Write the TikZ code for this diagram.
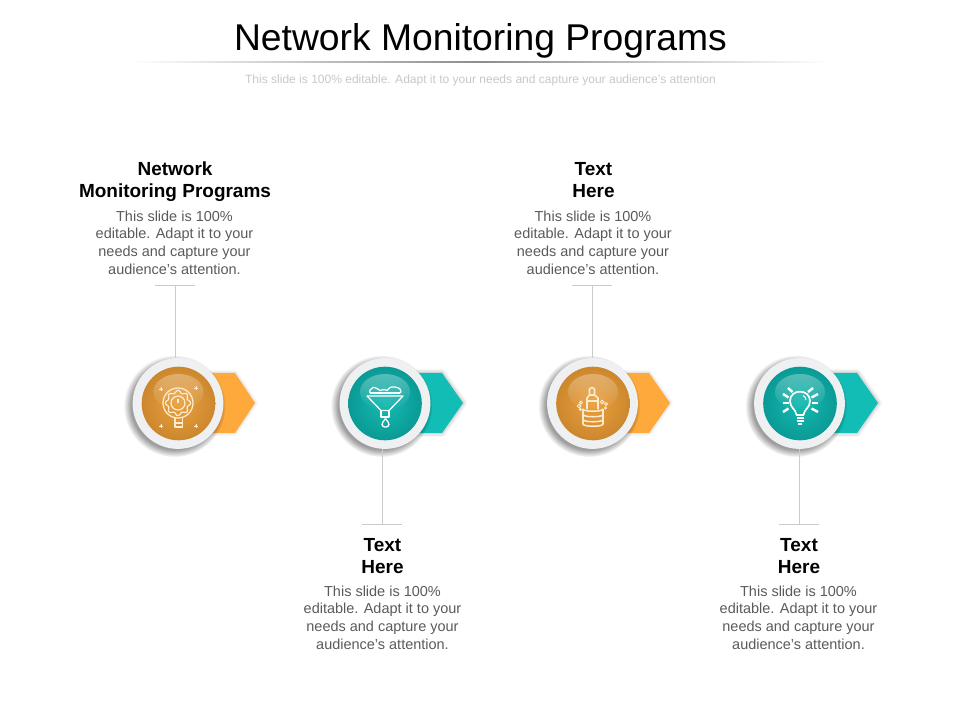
\documentclass[tikz,border=0pt]{standalone}
\usepackage{fontspec}
\setmainfont{Liberation Sans}
\usetikzlibrary{fadings}

\definecolor{amberblade}{HTML}{FDA93C}
\definecolor{tealblade}{HTML}{12BDB5}
\definecolor{amberinner}{HTML}{EBA03C}
\definecolor{amberouter}{HTML}{CC872E}
\definecolor{tealinner}{HTML}{16BAB2}
\definecolor{tealouter}{HTML}{0A9A95}
\definecolor{ringgrey}{HTML}{EEF0F2}
\definecolor{stemgrey}{HTML}{CBCBCB}
\definecolor{bodygrey}{HTML}{5A5A5A}
\definecolor{iconcream}{HTML}{FDEBCF}

\tikzset{
  titletext/.style={font=\fontsize{26.5}{30}\selectfont, text=black},
  subtext/.style={font=\fontsize{8.55}{10}\selectfont, text=black!22},
  headtext/.style={font=\fontsize{13.5}{15.6}\selectfont\bfseries, align=center, text=black},
  bodytext/.style={font=\fontsize{10.3}{12.5}\selectfont, align=center, text=bodygrey},
  stemline/.style={draw=stemgrey, line width=0.5pt},
  ringdisc/.style={circle, fill=ringgrey, minimum size=2.27cm, inner sep=0pt},
  amberdisc/.style={circle, minimum size=1.84cm, inner sep=0pt, inner color=amberinner, outer color=amberouter},
  tealdisc/.style={circle, minimum size=1.84cm, inner sep=0pt, inner color=tealinner, outer color=tealouter},
  softshadow/.style={fill=black, opacity=0.38, path fading=circle with fuzzy edge 15 percent},
  gloss/.style={fill=white, opacity=0.3, path fading=south},
  amberarrow/.style={fill=amberblade,
    preaction={draw=black, opacity=0.02, line width=4.5pt, line join=round},
    preaction={draw=black, opacity=0.03, line width=3pt, line join=round},
    preaction={draw=black, opacity=0.04, line width=1.5pt, line join=round}},
  tealarrow/.style={fill=tealblade,
    preaction={draw=black, opacity=0.03, line width=6pt, line join=round},
    preaction={draw=black, opacity=0.05, line width=4pt, line join=round},
    preaction={draw=black, opacity=0.08, line width=2pt, line join=round}},
  amberline/.style={draw=iconcream, line width=0.9pt, line join=round},
  tealline/.style={draw=white, line width=0.9pt, line join=round},
}

\begin{document}
\begin{tikzpicture}[x=0.025cm, y=-0.025cm]

\useasboundingbox (0,0) rectangle (960,720);

% title block
\node[titletext] (title) at (480.5,40.5) {Network Monitoring Programs};
\shade[left color=white, right color=white, middle color=black!45] (130,62) rectangle (830,63);
\node[subtext] (subtitle) at (480.5,80) {This slide is 100\% editable. Adapt it to your needs and capture your audience's attention};

% arrow blades behind the rings
\draw[amberarrow, draw=none] (200,373) -- (235,373) -- (255,403) -- (235,433) -- (200,433) -- cycle;
\draw[tealarrow, draw=none] (407,373) -- (442,373) -- (463,403) -- (442,433) -- (407,433) -- cycle;
\draw[amberarrow, draw=none] (615,373) -- (649,373) -- (670,403) -- (649,433) -- (615,433) -- cycle;
\draw[tealarrow, draw=none] (822,373) -- (857,373) -- (878,403) -- (857,433) -- (822,433) -- cycle;

% shadows
\fill[softshadow] (174.5,406) circle (51);
\fill[softshadow] (381.5,406) circle (51);
\fill[softshadow] (589,406) circle (51);
\fill[softshadow] (796,406) circle (51);

% rings and discs
\node[ringdisc] (ringA) at (178,403.5) {};
\node[ringdisc] (ringB) at (385,403.5) {};
\node[ringdisc] (ringC) at (592.5,403.5) {};
\node[ringdisc] (ringD) at (799.5,403.5) {};
\node[amberdisc] (discA) at (178.5,403.5) {};
\node[tealdisc] (discB) at (385,403.5) {};
\node[amberdisc] (discC) at (593,403.5) {};
\node[tealdisc] (discD) at (800,403.5) {};
\fill[gloss] (178.5,392) ellipse (25 and 18);
\fill[gloss] (385,392) ellipse (25 and 18);
\fill[gloss] (593,392) ellipse (25 and 18);
\fill[gloss] (800,392) ellipse (25 and 18);

% stems
\coordinate (capA) at (175,285);
\coordinate (capB) at (382,524);
\coordinate (capC) at (592,285);
\coordinate (capD) at (799,524);
\draw[stemline] (capA) -- (capA |- ringA.north);
\draw[stemline] (capB) -- (capB |- ringB.south);
\draw[stemline] (capC) -- (capC |- ringC.north);
\draw[stemline] (capD) -- (capD |- ringD.south);
\draw[stemline] ([xshift=-0.5cm]capA) -- ([xshift=0.5cm]capA);
\draw[stemline] ([xshift=-0.5cm]capB) -- ([xshift=0.5cm]capB);
\draw[stemline] ([xshift=-0.5cm]capC) -- ([xshift=0.5cm]capC);
\draw[stemline] ([xshift=-0.5cm]capD) -- ([xshift=0.5cm]capD);

% texts
\node[headtext] (headA) at (175,182) {Network\\Monitoring Programs};
\node[bodytext] (bodyA) at (174.5,242.5) {This slide is 100\%\\editable. Adapt it to your\\needs and capture your\\audience's attention.};
\node[headtext] (headB) at (382.5,556) {Text\\Here};
\node[bodytext] (bodyB) at (382.5,617.5) {This slide is 100\%\\editable. Adapt it to your\\needs and capture your\\audience's attention.};
\node[headtext] (headC) at (593.5,180) {Text\\Here};
\node[bodytext] (bodyC) at (593,242.5) {This slide is 100\%\\editable. Adapt it to your\\needs and capture your\\audience's attention.};
\node[headtext] (headD) at (799,556) {Text\\Here};
\node[bodytext] (bodyD) at (798.5,617.5) {This slide is 100\%\\editable. Adapt it to your\\needs and capture your\\audience's attention.};

% gear bulb
\begin{scope}[shift={(178,403)}]
\draw[amberline] (0,0) circle (15);
\draw[amberline] plot[domain=0:360, samples=145] (\x:{11.3+1.3*cos(8*\x)});
\draw[amberline] (0,0) circle (7);
\draw[amberline] (0,-3.5) -- (0,0);
\draw[amberline] (-3,15) -- (-3,24) -- (4.5,24) -- (4.5,15);
\draw[amberline] (-3,20) -- (4.5,20);
\foreach \px/\py in {-17/-14, 18/-15, -17/23, 18/23} {
  \fill[iconcream] (\px,\py) circle (1.1);
  \draw[iconcream, line width=0.3pt] (\px-2.4,\py) -- (\px+2.4,\py) (\px,\py-2.4) -- (\px,\py+2.4);
}
\end{scope}

% funnel
\begin{scope}[shift={(385,403)}]
\draw[tealline] (-18,-7) -- (18,-7) -- (4,7.5) -- (-4,7.5) -- cycle;
\draw[tealline] (-4,7.5) rectangle (4,14);
\draw[tealline] plot[smooth, tension=0.7] coordinates {
(-15,-10) (-15,-13) (-12,-15.5) (-8,-14.5) (-5,-12.5) (-1,-13.5) (2,-12.5) (5,-15.5) (10,-16) (15,-14) (16,-11) (15,-10)
};
\draw[tealline] (-15,-10) -- (15,-10);
\draw[tealline] (0.5,15.5) .. controls (-2,19) and (-3,20) .. (-3,21.5) .. controls (-3,25) and (4,25) .. (4,21.5) .. controls (4,20) and (3,19) .. (0.5,15.5);
\end{scope}

% bottle and drum
\begin{scope}[shift={(593,403)}]
\draw[iconcream, line width=1.1pt, line join=round] (-10,6) -- (-10,21) .. controls (-10,24) and (10,24) .. (10,21) -- (10,6);
\draw[iconcream, line width=1.1pt] (-10,6) .. controls (-10,9) and (10,9) .. (10,6);
\draw[iconcream, line width=1.1pt] (-10,11.5) .. controls (-10,14.5) and (10,14.5) .. (10,11.5);
\draw[iconcream, line width=1.1pt] (-10,16.5) .. controls (-10,19.5) and (10,19.5) .. (10,16.5);
\draw[iconcream, line width=1.1pt, line join=round] (-6,6.5) -- (-6,-5) -- (-3.5,-8) -- (-3.5,-14) -- (-1,-15.5) -- (1.5,-14) -- (1.5,-8) -- (5,-5) -- (5,6.5);
\draw[iconcream, line width=1.1pt] (-3.5,-8) -- (1.5,-8);
\draw[iconcream, line width=1.1pt] (-6,-2) -- (5,-2);
\draw[iconcream, line width=0.7pt] (-14,3) circle (1.8) (-12,-0.5) circle (1.5) (-12.5,6.5) circle (1);
\draw[iconcream, line width=0.7pt] (9,-1) circle (1.8) (13,1) circle (1.5) (12.5,5) circle (1);
\end{scope}

% light bulb
\begin{scope}[shift={(800,403)}]
\draw[white, line width=1.2pt, line join=round] (-3.5,12) .. controls (-4,6) and (-10,5) .. (-10,-2) .. controls (-10,-14.5) and (10,-14.5) .. (10,-2) .. controls (10,5) and (4,6) .. (3.5,12) -- cycle;
\draw[white, line width=0.7pt] (3,-7.5) .. controls (5,-6.5) and (6,-5) .. (6,-3);
\draw[white, line width=1.4pt] (-3.5,15) -- (3.5,15) (-3.5,18) -- (3.5,18) (-2,21) -- (2,21);
\draw[white, line width=1.7pt] (-17,0) -- (-11.5,0) (11.5,0) -- (18,0);
\draw[white, line width=1.7pt] (-17,-9) -- (-11.5,-5.5) (11.5,-5.5) -- (18,-9);
\draw[white, line width=1.7pt] (-12,-15) -- (-7.5,-11) (8,-11) -- (13,-15);
\draw[white, line width=1.7pt] (-17,9) -- (-11.5,5.5) (11.5,5.5) -- (18,9);
\end{scope}

\end{tikzpicture}
\end{document}
